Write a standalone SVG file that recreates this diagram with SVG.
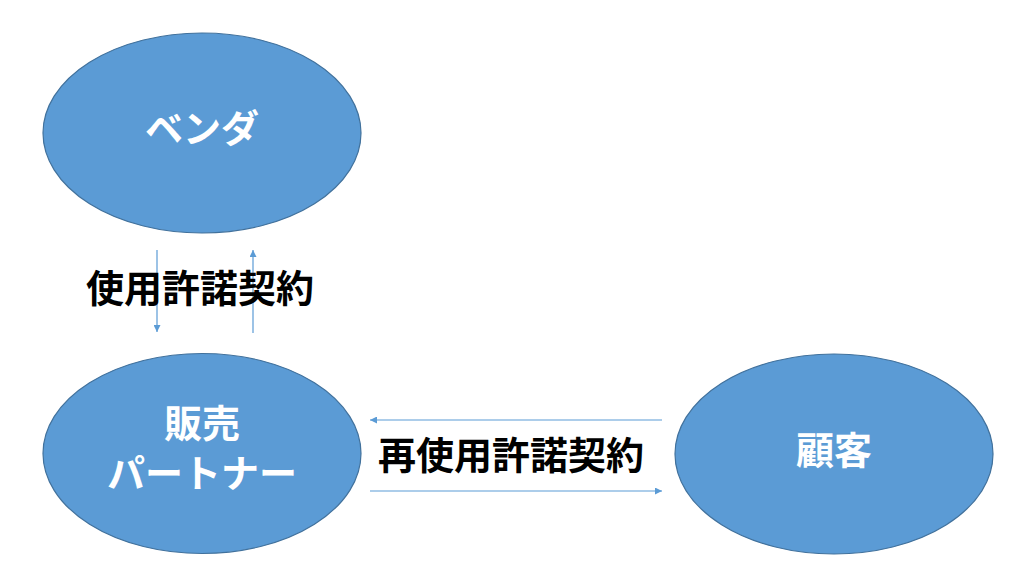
<svg xmlns="http://www.w3.org/2000/svg" width="1024" height="581" viewBox="0 0 1024 581">
<defs>
<style>
.node{fill:#5B9BD5;stroke:#41719C;stroke-width:1.2}
.nt{fill:#fff;font-family:"Noto Sans CJK JP","Noto Sans",sans-serif;font-weight:bold;font-size:38px;text-anchor:middle}
.lbl{fill:#000;font-family:"Noto Sans CJK JP","Noto Sans",sans-serif;font-weight:bold;font-size:38px;text-anchor:middle}
.conn{stroke:#5B9BD5;stroke-width:1.2;fill:none;marker-end:url(#ah)}
</style>
<marker id="ah" viewBox="0 0 10 10" refX="10" refY="5" markerWidth="7" markerHeight="7" markerUnits="userSpaceOnUse" orient="auto">
<path d="M0,0 L10,5 L0,10 z" fill="#5B9BD5"/>
</marker>
</defs>
<rect width="1024" height="581" fill="#fff"/>
<g id="vendor">
<ellipse class="node" cx="202" cy="133" rx="159" ry="100"/>
<text class="nt" x="202" y="142">ベンダ</text>
</g>
<g id="partner">
<ellipse class="node" cx="202" cy="453.5" rx="159" ry="100"/>
<text class="nt" x="202" y="437">販売</text>
<text class="nt" x="202" y="487">パートナー</text>
</g>
<g id="customer">
<ellipse class="node" cx="834" cy="454" rx="159" ry="100"/>
<text class="nt" x="834" y="464">顧客</text>
</g>
<g id="connectors">
<line class="conn" x1="157" y1="250" x2="157" y2="332"/>
<line class="conn" x1="253" y1="333" x2="253" y2="250"/>
<line class="conn" x1="662" y1="420" x2="370" y2="420"/>
<line class="conn" x1="370" y1="491" x2="662" y2="491"/>
</g>
<g id="labels">
<text class="lbl" x="200" y="302">使用許諾契約</text>
<text class="lbl" x="511" y="469">再使用許諾契約</text>
</g>
</svg>
